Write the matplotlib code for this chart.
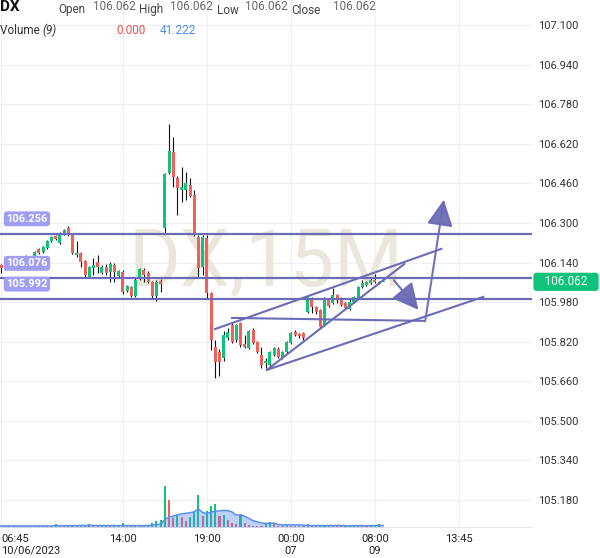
import numpy as np
import pandas as pd
import matplotlib.pyplot as plt

plt.rcParams['font.family'] = ['Roboto', 'DejaVu Sans']

# Velas de 15 min (DX)
apertura = [106.130, 106.118, 106.126, 106.120, 106.138, 106.146, 106.162, 106.158, 106.162, 106.195,
            106.182, 106.199, 106.227, 106.247, 106.219, 106.255, 106.279, 106.251, 106.170, 106.178,
            106.146, 106.081, 106.118, 106.142, 106.098, 106.122, 106.102, 106.130, 106.085, 106.102,
            106.025, 106.041, 106.005, 106.073, 106.110, 106.098, 106.061, 106.005, 106.065, 106.279,
            106.502, 106.587, 106.482, 106.433, 106.433, 106.453, 106.413, 106.243, 106.122, 106.239,
            106.017, 105.798, 105.778, 105.754, 105.835, 105.887, 105.827, 105.896, 105.811, 105.794,
            105.867, 105.819, 105.766, 105.734, 105.726, 105.766, 105.790, 105.754, 105.778, 105.815,
            105.859, 105.851, 105.855, 105.940, 105.988, 105.960, 105.948, 105.887, 105.988, 105.976,
            106.009, 105.997, 105.976, 105.952, 105.980, 105.997, 106.041, 106.049, 106.057, 106.069,
            106.058, 106.062]
maximo = [106.136, 106.130, 106.134, 106.142, 106.150, 106.168, 106.170, 106.168, 106.186, 106.199,
          106.207, 106.231, 106.247, 106.251, 106.263, 106.275, 106.288, 106.255, 106.227, 106.182,
          106.150, 106.126, 106.158, 106.170, 106.130, 106.134, 106.142, 106.138, 106.110, 106.110,
          106.049, 106.045, 106.077, 106.118, 106.118, 106.106, 106.065, 106.069, 106.073, 106.502,
          106.700, 106.647, 106.490, 106.526, 106.506, 106.482, 106.433, 106.251, 106.251, 106.251,
          106.021, 105.827, 105.790, 105.863, 105.875, 105.896, 105.891, 105.900, 105.847, 105.867,
          105.875, 105.823, 105.798, 105.754, 105.782, 105.798, 105.798, 105.782, 105.823, 105.859,
          105.867, 105.855, 105.859, 106.005, 106.001, 105.964, 105.952, 106.001, 105.997, 106.037,
          106.013, 106.001, 105.980, 105.997, 106.005, 106.045, 106.069, 106.065, 106.081, 106.094,
          106.066, 106.062]
minimo = [106.098, 106.110, 106.114, 106.116, 106.130, 106.142, 106.152, 106.150, 106.158, 106.174,
          106.178, 106.195, 106.223, 106.231, 106.215, 106.251, 106.247, 106.174, 106.162, 106.122,
          106.077, 106.077, 106.090, 106.098, 106.094, 106.090, 106.061, 106.061, 106.077, 106.013,
          106.021, 106.001, 106.001, 106.069, 106.061, 106.057, 105.997, 105.984, 106.021, 106.259,
          106.498, 106.445, 106.332, 106.385, 106.393, 106.405, 106.247, 106.077, 106.090, 105.997,
          105.786, 105.673, 105.681, 105.742, 105.827, 105.815, 105.820, 105.800, 105.794, 105.790,
          105.811, 105.774, 105.714, 105.714, 105.722, 105.762, 105.754, 105.750, 105.774, 105.811,
          105.843, 105.835, 105.827, 105.936, 105.936, 105.932, 105.875, 105.883, 105.960, 105.972,
          105.976, 105.964, 105.952, 105.948, 105.976, 105.993, 106.037, 106.045, 106.053, 106.057,
          106.054, 106.062]
cierre = [106.118, 106.126, 106.120, 106.138, 106.146, 106.162, 106.158, 106.164, 106.182, 106.178,
          106.203, 106.227, 106.243, 106.235, 106.259, 106.271, 106.251, 106.178, 106.178, 106.142,
          106.090, 106.122, 106.130, 106.122, 106.122, 106.098, 106.134, 106.102, 106.106, 106.021,
          106.045, 106.005, 106.069, 106.114, 106.090, 106.061, 106.005, 106.061, 106.053, 106.498,
          106.591, 106.486, 106.441, 106.445, 106.461, 106.409, 106.251, 106.118, 106.243, 106.017,
          105.827, 105.738, 105.738, 105.847, 105.859, 105.819, 105.887, 105.807, 105.798, 105.863,
          105.815, 105.778, 105.726, 105.742, 105.778, 105.794, 105.758, 105.778, 105.819, 105.855,
          105.847, 105.843, 105.835, 106.001, 105.960, 105.940, 105.879, 105.988, 105.964, 106.009,
          105.988, 105.968, 105.956, 105.980, 106.001, 106.041, 106.057, 106.061, 106.069, 106.061,
          106.062, 106.062]
volumen = [30, 25, 35, 30, 20, 30, 25, 35, 30, 25, 30, 35, 30, 90, 30, 25, 35, 45, 30, 70,
           40, 80, 30, 25, 30, 35, 25, 30, 25, 120, 30, 25, 30, 25, 30, 50, 120, 170, 210, 1170,
           750, 240, 350, 280, 180, 270, 430, 900, 300, 450, 600, 650, 300, 330, 200, 100, 80, 380, 100, 60,
           40, 30, 25, 100, 140, 100, 30, 25, 60, 30, 25, 30, 20, 90, 40, 30, 45, 55, 30, 45,
           30, 25, 30, 30, 40, 70, 40, 30, 35, 50, 76, 0]

precios_eje = [105.180, 105.340, 105.500, 105.660, 105.820, 105.980, 106.140,
               106.300, 106.460, 106.620, 106.780, 106.940, 107.100]
ticks_idx = [0, 29, 49, 69, 89, 109]
ticks_txt = ["06:45\n10/06/2023", "14:00", "19:00", "00:00\n07", "08:00\n09", "13:45"]

niveles = [106.256, 106.076, 105.992]

# dibujos: (indice vela, precio)
lineas = [([50.95, 104.8], [105.871, 106.195]),
          ([55.0, 100.95], [105.916, 105.904]),
          ([63.3, 114.8], [105.706, 106.001]),
          ([63.3, 96.0], [105.706, 106.134])]
flechas = [((93.1, 106.077), (99.8, 105.940)),
           ((100.95, 105.900), (105.5, 106.405))]

verde = '#0fc47a'
rojo = '#f2605a'
morado = '#6b6bb6'

o = np.array(apertura)
h = np.array(maximo)
l = np.array(minimo)
c = np.array(cierre)
v = np.array(volumen, dtype=float)
x = np.arange(len(c))

fig = plt.figure(figsize=(6, 5.58), dpi=100)
ax = fig.add_axes([0, 1 - 527 / 558, 532 / 600, 527 / 558])
ax.set_xlim(-0.24, 126.4)
ax.set_ylim(105.0709, 107.2011)

# marca de agua
ax.text(0.5, 0.5, "DX,15M", transform=ax.transAxes, fontsize=57, color='#ebe7dc',
        ha='center', va='center', zorder=0.6)

# velas
colores = np.where(c >= o, verde, rojo)
ax.vlines(x, l, h, color='#111111', lw=0.8, zorder=2)
ax.bar(x, np.maximum(np.abs(c - o), 0.002), bottom=np.minimum(o, c), width=0.72,
       color=colores, zorder=3)

# niveles horizontales
for p in niveles:
    ax.axhline(p, color=morado, lw=1.6, zorder=4)
    ax.annotate(f"{p:.3f}", xy=(0, p), xycoords=('axes fraction', 'data'),
                xytext=(4.5, 10.8), textcoords='offset points', ha='left', va='center',
                fontsize=8, fontweight='bold', color='white', zorder=6,
                bbox=dict(boxstyle='round,pad=0.22,rounding_size=0.3', fc='#9f9ef4', ec='none'))

# lineas de tendencia y flechas
for xs, ys in lineas:
    ax.plot(xs, ys, color=morado, lw=1.5, zorder=4)
for ini, fin in flechas:
    ax.annotate("", xy=fin, xytext=ini,
                arrowprops=dict(arrowstyle='-|>,head_length=0.9,head_width=0.45',
                                mutation_scale=18, color=morado, lw=1.5, alpha=0.95),
                zorder=4)

# etiqueta del ultimo precio
ax.annotate(f"   {c[-1]:.3f}   ", xy=(1, c[-1]), xycoords=('axes fraction', 'data'),
            xytext=(24.5, 0), textcoords='offset points', ha='center', va='center',
            fontsize=8.5, color='white', annotation_clip=False,
            bbox=dict(boxstyle='round,pad=0.22,rounding_size=0.25', fc=verde, ec='none'))

# ejes
ax.set_yticks(precios_eje)
ax.set_yticklabels([f"{p:.3f}" for p in precios_eje])
ax.yaxis.tick_right()
ax.tick_params(axis='y', length=0, pad=4, labelsize=8, labelcolor='#333333')
ax.set_xticks(ticks_idx)
ax.set_xticklabels(ticks_txt)
ax.tick_params(axis='x', length=0, pad=5, labelsize=8, labelcolor='#222222')
ax.get_xticklabels()[0].set_ha('left')
ax.grid(True, color='#f0f0f0', lw=0.8)
ax.set_axisbelow(True)
for s in ['top', 'right', 'left']:
    ax.spines[s].set_visible(False)
ax.spines['bottom'].set_color('#e8e8e8')

# volumen
vax = fig.add_axes(ax.get_position(), sharex=ax)
vax.set_ylim(0, 1170 * 527 / 41.5)
vax.axis('off')
vax.patch.set_alpha(0)
sube = np.r_[True, v[1:] >= v[:-1]]
vax.bar(x, v, width=0.5, color=np.where(sube, verde, rojo))
media = pd.Series(v).rolling(9, min_periods=1).mean()
vax.fill_between(x, media, color='#5b8def', alpha=0.4, lw=0)
vax.plot(x, media, color='#5b8def', lw=1.1)

# cabecera
def px(a, b):
    return a / 600, 1 - b / 558

fig.text(*px(0, 7), "DX", fontsize=11, fontweight='bold', va='center', color='#111111')
cab = [("Open", 58, o[-1], 93), ("High", 139, h[-1], 170), ("Low", 217, l[-1], 245),
       ("Close", 291, c[-1], 333)]
for nombre, xn, val, xv in cab:
    fig.text(*px(xn, 10), nombre, fontsize=8.5, va='center', color='#444444')
    fig.text(*px(xv, 6), f"{val:.3f}", fontsize=8.5, va='center', color='#666666')
fig.text(*px(0, 30), "Volume ", fontsize=8.5, va='center', color='#333333')
fig.text(*px(42, 30), "(9)", fontsize=8.5, va='center', color='#333333', style='italic')
fig.text(*px(116, 30), f"{v[-1]:.3f}", fontsize=8.5, va='center', color='#e5534b')
fig.text(*px(160, 30), f"{media.iloc[-1]:.3f}", fontsize=8.5, va='center', color='#4a8fe7')

fig.savefig("out.png", dpi=100)
